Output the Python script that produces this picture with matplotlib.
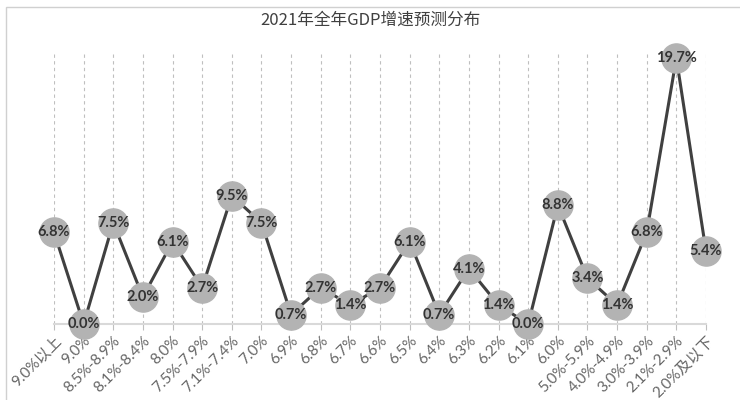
import matplotlib.pyplot as plt
from matplotlib.patches import Rectangle

plt.rcParams['font.family'] = ['Lato', 'Noto Sans CJK SC', 'DejaVu Sans']

categories = ['9.0%以上', '9.0%', '8.5%-8.9%', '8.1%-8.4%', '8.0%', '7.5%-7.9%',
              '7.1%-7.4%', '7.0%', '6.9%', '6.8%', '6.7%', '6.6%', '6.5%', '6.4%',
              '6.3%', '6.2%', '6.1%', '6.0%', '5.0%-5.9%', '4.0%-4.9%',
              '3.0%-3.9%', '2.1%-2.9%', '2.0%及以下']
share = [6.8, 0.0, 7.5, 2.0, 6.1, 2.7, 9.5, 7.5, 0.7, 2.7, 1.4, 2.7, 6.1, 0.7,
         4.1, 1.4, 0.0, 8.8, 3.4, 1.4, 6.8, 19.7, 5.4]
title = '2021年全年GDP增速预测分布'

fig = plt.figure(figsize=(7.4, 4), dpi=100)
ax = fig.add_axes([54 / 740, 1 - 324 / 400, (706 - 54) / 740, (324 - 54) / 400])

xs = list(range(len(categories)))
ax.plot(xs, share, color='#404040', linewidth=2.2, marker='o', markersize=21,
        markerfacecolor='#b3b3b3', markeredgecolor='#b3b3b3', clip_on=False, zorder=3)
for x, v in zip(xs, share):
    ax.text(x, v, f'{v:.1f}%', ha='center', va='center', fontsize=10.5,
            fontweight='bold', color='#333333', zorder=4, clip_on=False)

ax.set_xlim(0, len(categories) - 1)
ax.set_ylim(0, 20)
ax.set_xticks(xs)
ax.set_xticklabels(categories, rotation=45, ha='right', rotation_mode='anchor',
                   fontsize=11, color='#666666')
ax.tick_params(axis='x', length=4, color='#bfbfbf', pad=3)
ax.set_yticks([])
ax.grid(axis='x', linestyle=(0, (3, 3)), color='#bfbfbf', linewidth=0.8)
ax.set_axisbelow(True)
for s in ['top', 'right', 'left']:
    ax.spines[s].set_visible(False)
ax.spines['bottom'].set_color('#d9d9d9')
ax.spines['bottom'].set_linewidth(1.5)

fig.text(0.5, 1 - 20 / 400, title, ha='center', va='center', fontsize=12,
         color='#404040', family=['Noto Sans CJK SC', 'DejaVu Sans'])

# light frame around the chart
fig.patches.append(Rectangle((6 / 740, -0.1), 1.2, 1.1 - 7 / 400, transform=fig.transFigure,
                             fill=False, edgecolor='#d0d0d0', linewidth=1.0))

fig.savefig('out.png', dpi=100)
